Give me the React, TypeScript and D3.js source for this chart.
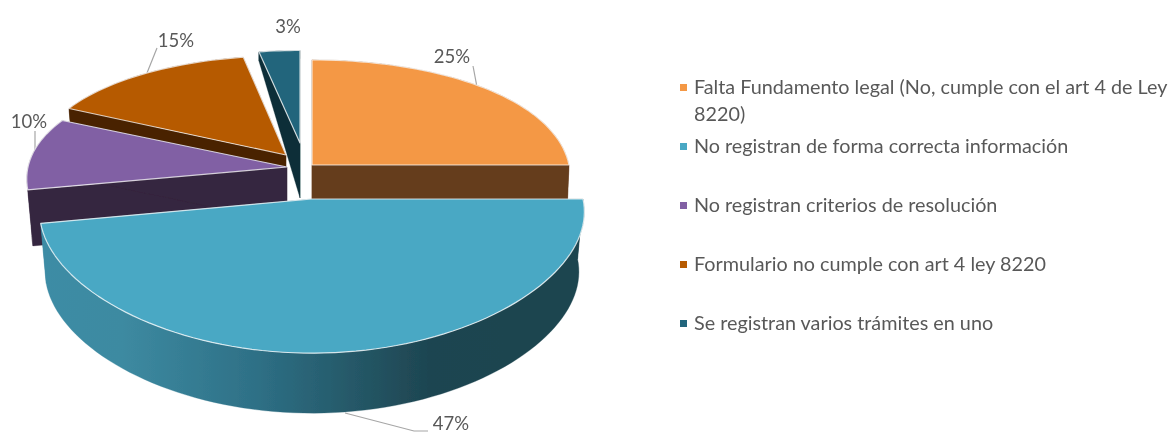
import React from "react";
import * as d3 from "d3";

const categories = [
  "Falta Fundamento legal (No, cumple con el art 4 de Ley 8220)",
  "No registran de forma correcta información",
  "No registran criterios de resolución",
  "Formulario no cumple con art 4 ley 8220",
  "Se registran varios trámites en uno",
];
const values = [25, 47, 10, 15, 3];
const legendLines = [
  ["Falta Fundamento legal (No, cumple con el art 4 de Ley", "8220)"],
  ["No registran de forma correcta información"],
  ["No registran criterios de resolución"],
  ["Formulario no cumple con art 4 ley 8220"],
  ["Se registran varios trámites en uno"],
];
const topColors = ["#F49845", "#4AA8C4", "#8161A4", "#B65A02", "#22657B"];
const sideColors = ["#653C1D", "url(#blueSide)", "#35263F", "#4A2405", "#0E2E38"];
const legendColors = ["#F49845", "#4AA8C4", "#8161A4", "#B65A02", "#22657B"];

// Per-slice placement of the exploded 3D wedges
const apexX = [312, 312, 287, 286, 300];
const apexY = [165, 199, 167, 155, 143];
const radiusX = [257, 271, 259, 250, 241];
const radiusY = [125, 125, 118, 118, 110];
const depth = [60, 60, 56, 56, 55];
const taper = [0, 0, 0, 0, 0.85];
const floorScale = [0.99, 0.98, 0.98, 0.98, 1];
const drawOrder = [4, 3, 2, 0, 1];
const perspY = 0.189;
const perspX = 0.1;

const leaderLines = [
  [[477, 87], [473, 66]],
  [[345, 413], [414, 431], [428, 431]],
  [[35, 155], [35, 131]],
  [[147, 73], [157, 48]],
];
const labelX = [452, 451, 29, 176, 288];
const labelY = [63, 430, 128, 47, 33];

const FONT = "Lato, 'Open Sans', sans-serif";
const pieLayout = d3.pie<number>().sort(null)(values);
const line = d3.line<[number, number]>();

function project(i: number, a: number, r: number, floor: boolean): [number, number] {
  const X = Math.sin(a) * r;
  const Y = -Math.cos(a) * r;
  const sy = 1 / (1 - perspY * Y);
  const sx = 1 / (1 - perspX * Y);
  const fs = floor ? floorScale[i] : 1;
  const drop = floor ? depth[i] * (1 + taper[i] * Y) : 0;
  return [apexX[i] + radiusX[i] * X * sx * fs, apexY[i] + radiusY[i] * Y * sy + drop];
}

function arcPts(i: number, floor: boolean): [number, number][] {
  const { startAngle, endAngle } = pieLayout[i];
  const n = Math.max(8, Math.round(((endAngle - startAngle) / (2 * Math.PI)) * 180));
  return d3.range(n + 1).map((k) => project(i, startAngle + ((endAngle - startAngle) * k) / n, 1, floor));
}

function topPath(i: number) {
  return line([project(i, 0, 0, false), ...arcPts(i, false)]) + "Z";
}
function sidePaths(i: number) {
  const top = arcPts(i, false);
  const bot = arcPts(i, true);
  const a0 = project(i, 0, 0, false);
  const a1 = project(i, 0, 0, true);
  return [
    line([...top, ...bot.slice().reverse()]) + "Z",
    line([a0, top[0], bot[0], a1]) + "Z",
    line([a0, top[top.length - 1], bot[bot.length - 1], a1]) + "Z",
  ];
}

export default function App() {
  return (
    <svg width={1171} height={433} style={{ position: "absolute", left: 0, top: 0, background: "#fff" }} fontFamily={FONT}>
      <defs>
        <linearGradient id="blueSide" gradientUnits="userSpaceOnUse" x1={40} x2={580} y1={0} y2={0}>
          <stop offset="0" stopColor="#3E8CA5" />
          <stop offset="0.15" stopColor="#3D8AA1" />
          <stop offset="0.4" stopColor="#2E7086" />
          <stop offset="0.62" stopColor="#235361" />
          <stop offset="0.72" stopColor="#1E4551" />
          <stop offset="1" stopColor="#1C454F" />
        </linearGradient>
        <filter id="soft" x="-2%" y="-2%" width="104%" height="104%">
          <feGaussianBlur stdDeviation="0.55" />
        </filter>
      </defs>
      <g filter="url(#soft)">
        {leaderLines.map((l, i) => (
          <path key={i} d={line(l as [number, number][]) as string} fill="none" stroke="#A6A6A6" strokeWidth={1.2} />
        ))}
        {drawOrder.map((i) => (
          <g key={i}>
            {sidePaths(i).map((d, k) => (
              <path key={k} d={d} fill={sideColors[i]} stroke={sideColors[i]} strokeWidth={0.3} />
            ))}
            <path d={topPath(i)} fill={topColors[i]} stroke="#ffffff" strokeOpacity={0.75} strokeWidth={1.2} strokeLinejoin="round" />
          </g>
        ))}
        {values.map((v, i) => (
          <text key={i} x={labelX[i]} y={labelY[i]} textAnchor="middle" fontSize={18.5} fill="#595959">
            {d3.format("d")(v)}%
          </text>
        ))}
        {categories.map((c, i) => {
          const rowY = [94, 153, 212, 271, 330][i];
          return (
            <g key={c}>
              <rect x={680} y={rowY - 10} width={7} height={7} fill={legendColors[i]} />
              {legendLines[i].map((t, j) => (
                <text key={j} x={694} y={rowY + j * 26.5} fontSize={19.8} fill="#595959">
                  {t}
                </text>
              ))}
            </g>
          );
        })}
      </g>
    </svg>
  );
}
